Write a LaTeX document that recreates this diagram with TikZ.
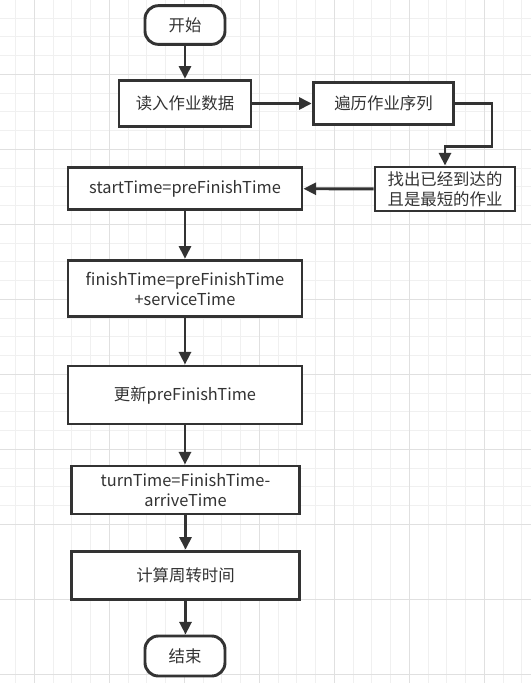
\documentclass[tikz,border=0pt]{standalone}
\usepackage{fontspec}
\setmainfont{Noto Sans CJK SC}
\usetikzlibrary{arrows.meta}
\definecolor{ink}{HTML}{333333}
\definecolor{gminor}{HTML}{F0F0F0}
\definecolor{gmajor}{HTML}{E0E0E0}
\begin{document}
\begin{tikzpicture}[x=0.75pt,y=-0.75pt,
  box/.style={draw=ink,line width=2.2pt,fill=white,text=ink,align=center,inner sep=0pt,font=\fontsize{12.3pt}{15pt}\selectfont},
  term/.style={box,rounded corners=10pt},
  arr/.style={draw=ink,line width=2.2pt,-{Triangle[length=9.5pt,width=9pt]}}]
\fill[white] (0,0) rectangle (531,683);
\useasboundingbox (0,0) rectangle (531,683);
% grid
\foreach \k in {-1,...,28} {
  \draw[gminor,line width=0.75pt] (15.55+\k*18.75,0) -- (15.55+\k*18.75,683);
  \draw[gminor,line width=0.75pt] (0,-0.7+\k*18.75) -- (531,-0.7+\k*18.75);
}
\foreach \k in {0,...,9} {
  \draw[gmajor,line width=0.75pt] (34.3+\k*75,0) -- (34.3+\k*75,683);
  \draw[gmajor,line width=0.75pt] (0,-0.7+\k*75) -- (531,-0.7+\k*75);
}
% nodes
\node[term,minimum width=60pt,minimum height=29pt] (start) at (185,25) {开始};
\node[box,minimum width=99pt,minimum height=35pt] (read) at (185,103.5) {读入作业数据};
\node[box,minimum width=105.5pt,minimum height=32pt] (trav) at (383.5,103.5) {遍历作业序列};
\node[box,minimum width=105pt,minimum height=33pt] (find) at (445,189) {找出已经到达的\\且是最短的作业};
\node[box,minimum width=175.5pt,minimum height=32pt] (st) at (185,188.5) {startTime=preFinishTime};
\node[box,minimum width=175.5pt,minimum height=42.5pt] (ft) at (185,288.5) {finishTime=preFinishTime\\+serviceTime};
\node[box,minimum width=175.5pt,minimum height=43.5pt] (up) at (185,395) {更新preFinishTime};
\node[box,minimum width=171.5pt,minimum height=36pt] (tt) at (185.5,490) {turnTime=FinishTime-\\arriveTime};
\node[box,minimum width=171.5pt,minimum height=36.5pt] (calc) at (185.5,575.5) {计算周转时间};
\node[term,minimum width=60pt,minimum height=30pt] (end) at (185,656) {结束};
% connectors
\coordinate (bend) at (492,146.5);
\draw[arr] (start) -- (read);
\draw[arr] (read) -- (trav);
\draw[arr] (trav.east) -| (bend) -| (find.north);
\draw[arr] (find) -- (st);
\draw[arr] (st) -- (ft);
\draw[arr] (ft) -- (up);
\draw[arr] (up.south) -- (up.south |- tt.north);
\draw[arr] (tt.south) -- (tt.south |- calc.north);
\draw[arr] (calc.south) -- (calc.south |- end.north);
\end{tikzpicture}
\end{document}
